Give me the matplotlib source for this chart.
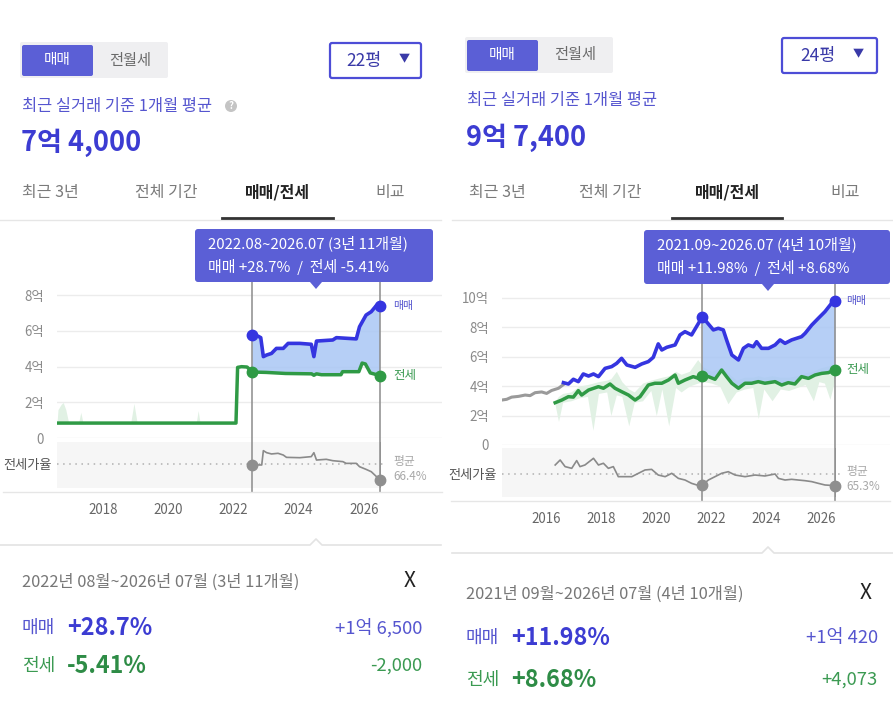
import numpy as np
import matplotlib
matplotlib.use("Agg")
import matplotlib.pyplot as plt
from matplotlib.patches import FancyBboxPatch, Circle, Polygon
from matplotlib.lines import Line2D
from matplotlib.transforms import Affine2D

plt.rcParams['font.family'] = ['Noto Sans CJK KR', 'DejaVu Sans']

# ----------------------------
# Datos: panel izquierdo (22평)
# ----------------------------
L_sale_x = [2022.58, 2022.76, 2022.84, 2022.92, 2023.02, 2023.17, 2023.32, 2023.53, 2023.68,
            2024.04, 2024.39, 2024.47, 2024.55, 2025.05, 2025.16, 2025.77, 2025.87, 2026.07,
            2026.23, 2026.38, 2026.50]
L_sale_y = [5.75, 5.70, 5.62, 4.56, 4.65, 4.74, 5.02, 5.02, 5.30,
            5.30, 5.25, 4.56, 5.43, 5.49, 5.62, 5.55, 6.23, 6.88,
            7.07, 7.40, 7.40]
L_jeon_x = [2016.59, 2022.08, 2022.13, 2022.25, 2022.42, 2022.58, 2023.0, 2023.6, 2024.4,
            2024.47, 2024.55, 2024.7, 2025.3, 2025.35, 2025.85, 2025.95, 2026.05, 2026.2, 2026.5]
L_jeon_y = [0.85, 0.85, 3.96, 4.00, 3.98, 3.70, 3.68, 3.62, 3.60,
            3.52, 3.60, 3.55, 3.55, 3.72, 3.72, 4.20, 4.15, 3.65, 3.50]
L_rng_x = [2016.59, 2016.62, 2016.72, 2016.78, 2016.86, 2016.95, 2017.25, 2017.32, 2017.39,
           2018.85, 2018.95, 2019.05, 2020.86, 2020.92, 2020.98, 2022.08]
L_rng_lo = [0.85] * 16
L_rng_hi = [0.85, 1.6, 1.9, 2.0, 1.6, 0.85, 0.85, 1.45, 0.85,
            0.85, 1.95, 0.85, 0.85, 1.55, 0.85, 0.85]
L_ratio_x = [2022.58, 2022.87, 2022.92, 2023.02, 2023.17, 2023.37, 2023.53, 2023.63, 2024.04,
             2024.39, 2024.47, 2024.55, 2024.85, 2025.05, 2025.36, 2025.46, 2025.77, 2025.87,
             2026.07, 2026.23, 2026.5]
L_ratio_y = [65.6, 65.6, 83.3, 80.8, 79.2, 80.0, 77.9, 75.0, 74.6,
             75.9, 80.8, 71.7, 72.6, 70.9, 69.7, 67.6, 67.6, 63.5,
             60.2, 57.3, 47.0]
L_avg = 66.4
L_start, L_end = 2022.58, 2026.5
L_yticks = [0, 2, 4, 6, 8]
L_ylabels = ['0', '2억', '4억', '6억', '8억']
L_xticks = [2018, 2020, 2022, 2024, 2026]

# ----------------------------
# Datos: panel derecho (24평)
# ----------------------------
R_prev_x = [2014.39, 2014.57, 2014.75, 2015.0, 2015.24, 2015.42, 2015.6, 2015.84, 2016.02,
            2016.2, 2016.45, 2016.63]
R_prev_y = [3.05, 3.10, 3.25, 3.30, 3.39, 3.35, 3.55, 3.60, 3.50,
            3.70, 3.85, 4.10]
R_sale_x = [2016.63, 2016.81, 2016.99, 2017.17, 2017.35, 2017.54, 2017.72, 2017.9, 2018.14,
            2018.38, 2018.56, 2018.74, 2018.93, 2019.23, 2019.47, 2019.71, 2019.89, 2020.07,
            2020.2, 2020.38, 2020.68, 2020.86, 2021.04, 2021.28, 2021.67, 2021.89, 2022.07,
            2022.25, 2022.43, 2022.55, 2022.74, 2022.98, 2023.16, 2023.34, 2023.52, 2023.64,
            2023.82, 2024.07, 2024.31, 2024.49, 2024.67, 2024.91, 2025.27, 2025.4, 2025.64,
            2025.88, 2026.12, 2026.36, 2026.5]
R_sale_y = [4.23, 4.14, 4.46, 4.30, 4.82, 4.68, 4.82, 4.64, 5.20,
            5.32, 5.54, 5.88, 5.43, 5.27, 5.50, 5.66, 5.95, 6.86,
            6.45, 6.63, 6.79, 7.47, 7.69, 7.47, 8.70, 8.21, 7.81,
            7.92, 7.81, 7.13, 6.11, 5.77, 6.56, 6.79, 6.67, 7.01,
            6.56, 6.56, 6.79, 7.13, 6.90, 7.13, 7.35, 7.58, 8.14,
            8.60, 9.05, 9.62, 9.74]
R_jeon_x = [2016.33, 2016.57, 2016.81, 2016.99, 2017.17, 2017.29, 2017.54, 2017.9, 2018.08,
            2018.32, 2018.5, 2018.74, 2018.99, 2019.23, 2019.41, 2019.71, 2019.95, 2020.2,
            2020.44, 2020.68, 2020.8, 2021.04, 2021.34, 2021.53, 2021.67, 2021.89, 2022.13,
            2022.37, 2022.55, 2022.74, 2022.98, 2023.22, 2023.46, 2023.7, 2023.94, 2024.31,
            2024.55, 2024.79, 2025.03, 2025.27, 2025.52, 2025.76, 2026.0, 2026.24, 2026.5]
R_jeon_y = [2.87, 3.05, 3.28, 3.25, 3.69, 3.39, 3.73, 3.96, 3.85,
            4.14, 3.85, 3.62, 3.39, 3.05, 3.28, 4.07, 4.19, 4.19,
            4.41, 4.75, 4.19, 4.41, 4.64, 4.52, 4.69, 4.64, 4.46,
            5.09, 4.64, 4.19, 3.85, 4.19, 4.19, 4.30, 4.19, 4.30,
            4.07, 4.23, 4.14, 4.64, 4.52, 4.75, 4.86, 4.91, 5.10]
R_rng_x = [2016.33, 2016.45, 2016.6, 2016.9, 2017.2, 2017.5, 2017.7, 2017.9, 2018.2, 2018.35,
           2018.55, 2018.75, 2019.0, 2019.2, 2019.5, 2019.8, 2020.0, 2020.2, 2020.45, 2020.7,
           2020.9, 2021.2, 2021.5, 2021.7, 2022.0, 2022.3, 2022.6, 2022.9, 2023.2, 2023.5,
           2023.7, 2023.9, 2024.2, 2024.5, 2024.8, 2025.1, 2025.4, 2025.7, 2025.9, 2026.1,
           2026.3, 2026.5]
R_rng_lo = [2.7, 1.6, 2.9, 3.0, 3.2, 3.3, 1.0, 3.5, 3.6, 2.0,
            3.4, 3.3, 1.3, 2.9, 3.0, 3.7, 2.0, 3.8, 1.3, 3.9,
            3.6, 4.0, 4.2, 4.3, 4.2, 4.0, 2.8, 3.6, 3.8, 3.9,
            1.8, 3.8, 3.0, 3.8, 3.7, 3.9, 4.1, 3.0, 4.3, 4.2,
            3.1, 4.6]
R_rng_hi = [3.0, 3.3, 3.5, 3.6, 4.0, 4.1, 4.2, 4.3, 4.4, 4.5,
            5.0, 4.3, 3.8, 3.6, 4.2, 4.4, 4.5, 4.6, 4.7, 5.0,
            4.8, 5.0, 5.8, 5.3, 5.0, 5.2, 4.9, 4.4, 4.6, 4.6,
            4.7, 4.6, 4.7, 4.6, 4.6, 4.7, 4.9, 5.0, 5.2, 5.3,
            5.4, 5.3]
R_ratio_x = [2016.33, 2016.51, 2016.69, 2016.93, 2017.11, 2017.23, 2017.41, 2017.72, 2017.9,
             2018.08, 2018.26, 2018.44, 2018.62, 2018.87, 2019.11, 2019.35, 2019.59, 2019.83,
             2020.07, 2020.32, 2020.56, 2020.8, 2021.04, 2021.28, 2021.47, 2021.67, 2021.89,
             2022.13, 2022.37, 2022.61, 2022.86, 2023.22, 2023.58, 2023.94, 2024.31, 2024.43,
             2024.67, 2024.91, 2025.15, 2025.4, 2025.64, 2025.88, 2026.12, 2026.5]
R_ratio_y = [75.8, 81.6, 73.9, 71.9, 80.9, 73.9, 75.8, 83.6, 75.8,
             77.8, 71.9, 73.9, 62.2, 62.2, 62.2, 66.1, 70.0, 70.7,
             64.1, 62.2, 66.1, 60.2, 58.3, 54.4, 52.5, 52.5, 58.3,
             62.2, 66.1, 68.0, 64.1, 62.2, 64.1, 63.0, 65.3, 60.2,
             58.3, 59.1, 58.3, 57.5, 56.4, 54.4, 52.5, 51.7]
R_avg = 65.3
R_start, R_end = 2021.67, 2026.5
R_yticks = [0, 2, 4, 6, 8, 10]
R_ylabels = ['0', '2억', '4억', '6억', '8억', '10억']
R_xticks = [2016, 2018, 2020, 2022, 2024, 2026]

# ----------------------------
# Colores
# ----------------------------
BLUE_BG = '#5b5fd6'
TXT_BLUE = '#5555cf'
BIG_BLUE = '#3c3cd2'
LINE_BLUE = '#3535e0'
GREEN = '#2f9a45'
GREEN_TXT = '#3b9a52'
FILL_BLUE = '#a9c7f5'
GRAY_LINE = '#8c8c8c'

W, H, DPI = 893, 722, 100
fig = plt.figure(figsize=(W / DPI, H / DPI), dpi=DPI)
fig.patch.set_facecolor('white')
# coordenadas en píxeles con origen arriba a la izquierda
T = Affine2D().scale(1, -1).translate(0, H).scale(1 / DPI) + fig.dpi_scale_trans


def txt(x, y, s, **kw):
    kw.setdefault('va', 'center')
    fig.text(x, y, s, transform=T, **kw)


def box(x0, y0, x1, y1, fc, ec='none', lw=0, r=0):
    style = f'round,pad=0,rounding_size={r}' if r else 'square,pad=0'
    fig.add_artist(FancyBboxPatch((x0, y0), x1 - x0, y1 - y0, boxstyle=style,
                                  transform=T, fc=fc, ec=ec, lw=lw))


def hline(x0, x1, y, color='#e6e6e6', lw=1.0):
    fig.add_artist(Line2D([x0, x1], [y, y], transform=T, color=color, lw=lw))


def rect(x0, y0, x1, y1):
    return [x0 / W, 1 - y1 / H, (x1 - x0) / W, (y1 - y0) / H]


def header(dx, dy, size_txt, price, show_help):
    # selector 매매 / 전월세
    box(dx + 20, dy + 42, dx + 168, dy + 78, '#efeff1', r=2)
    box(dx + 22, dy + 45, dx + 93, dy + 76, BLUE_BG, r=2)
    txt(dx + 57, dy + 60, '매매', color='white', fontsize=10.5, ha='center')
    txt(dx + 130, dy + 60, '전월세', color='#6a6a6a', fontsize=11, ha='center')
    # desplegable
    dw = 91 if dx == 0 else 95
    box(dx + 330 + (dx > 0) * 7, dy + 43, dx + 330 + (dx > 0) * 7 + dw, dy + 78, 'white',
        ec='#4d4dd6', lw=1.6, r=2)
    txt(dx + 364 + (dx > 0) * 9, dy + 61, size_txt, color='#3a3aa8', fontsize=12.5, ha='center')
    txt(dx + 404 + (dx > 0) * 9, dy + 59, '▼', color='#3a3aa8', fontsize=8, ha='center')
    txt(dx + 22, dy + 106, '최근 실거래 기준 1개월 평균', color=TXT_BLUE, fontsize=11.8)
    if show_help:
        fig.add_artist(Circle((231, dy + 106), 6, transform=T, fc='#c4c4c4', ec='none'))
        txt(231, dy + 106, '?', color='white', fontsize=7, ha='center', fontweight='bold')
    txt(dx + 21, dy + 143, price, color=BIG_BLUE, fontsize=19.5, fontweight='bold')


def tabs(dx, centers, ul):
    names = ['최근 3년', '전체 기간', '매매/전세', '비교']
    for name, cx in zip(names, centers):
        sel = name == '매매/전세'
        txt(cx, 192, name, ha='center', fontsize=11.5,
            color='#222222' if sel else '#7a7a7a', fontweight='bold' if sel else 'normal')
    fig.add_artist(Line2D(ul, [218, 218], transform=T, color='#333333', lw=2))


def chart(px0, px1, top, zero, rtop, rbot, base, tip_bot, ylim_top, rlim, xlim,
          xticks, yticks, ylabels, sale_x, sale_y, jeon_x, jeon_y, rng_x, rng_lo, rng_hi,
          ratio_x, ratio_y, avg, start, end, lab_off, prev=None):
    ax = fig.add_axes(rect(px0, top, px1, zero))
    ax.set_xlim(*xlim)
    ax.set_ylim(0, ylim_top)
    for s in ax.spines.values():
        s.set_visible(False)
    ax.set_xticks([])
    ax.set_yticks(yticks)
    ax.set_yticklabels(ylabels)
    ax.tick_params(axis='y', length=0, pad=9.4, labelsize=9.6, labelcolor='#8a8a8a')
    for yv in yticks:
        ax.axhline(yv, color='#ececec', lw=1, zorder=0)

    ax.fill_between(rng_x, rng_lo, rng_hi, color='#e1f1e4', lw=0, zorder=1)
    sx, sy = np.array(sale_x), np.array(sale_y)
    jx, jy = np.array(jeon_x), np.array(jeon_y)
    ms = (sx >= start) & (sx <= end)
    mj = (jx >= start) & (jx <= end)
    ax.fill(np.concatenate([sx[ms], jx[mj][::-1]]), np.concatenate([sy[ms], jy[mj][::-1]]),
            color=FILL_BLUE, alpha=0.85, lw=0, zorder=1)
    if prev is not None:
        ax.plot(prev[0], prev[1], color='#9a9a9a', lw=2.2, zorder=2)
    ax.plot(jx, jy, color=GREEN, lw=2.5, zorder=3, solid_joinstyle='round')
    ax.plot(sx, sy, color=LINE_BLUE, lw=2.6, zorder=4, solid_joinstyle='round')

    hgt = zero - top
    for d in (start, end):
        ax.axvline(d, ymin=-(base - zero) / hgt, ymax=1 + (top - tip_bot) / hgt,
                   clip_on=False, color=GRAY_LINE, lw=1.1, zorder=2)
    s0, s1 = sy[ms][0], sy[ms][-1]
    j0, j1 = jy[mj][0], jy[mj][-1]
    ax.plot([start, end], [s0, s1], 'o', ms=7.5, color=LINE_BLUE, zorder=6, clip_on=False)
    ax.plot([start, end], [j0, j1], 'o', ms=7.5, color=GREEN, zorder=6, clip_on=False)
    ax.annotate('매매', (end, s1), xytext=(lab_off, 0), textcoords='offset pixels',
                va='center', fontsize=7.8, color=TXT_BLUE, annotation_clip=False)
    ax.annotate('전세', (end, j1), xytext=(lab_off, 0), textcoords='offset pixels',
                va='center', fontsize=9, color=GREEN_TXT, annotation_clip=False)

    # franja de 전세가율
    ar = fig.add_axes(rect(px0, rtop, px1, rbot))
    ar.set_xlim(*xlim)
    ar.set_ylim(*rlim)
    ar.patch.set_alpha(0)
    for s in ar.spines.values():
        s.set_visible(False)
    ar.axvspan(xlim[0], end, color='#f6f6f6', lw=0, zorder=0)
    ar.hlines(avg, xlim[0], end + 0.2, colors='#b0b0b0', linestyles=(0, (1, 3)), lw=1.1, zorder=1)
    ar.plot(ratio_x, ratio_y, color='#8a8a8a', lw=1.2, zorder=3)
    for d in (start, end):
        ar.axvline(d, color=GRAY_LINE, lw=1.1, zorder=2)
    ar.plot([start, end], [ratio_y[ratio_x.index(start)], ratio_y[-1]], 'o', ms=7.5,
            color='#8f8f8f', zorder=5, clip_on=False)
    ar.set_yticks([avg])
    ar.set_yticklabels(['전세가율'])
    ar.tick_params(axis='y', length=0, pad=3.6, labelsize=9.5, labelcolor='#555555')
    ar.set_xticks(xticks)
    ar.set_xticklabels([str(t) for t in xticks])
    ar.tick_params(axis='x', length=0, pad=10.6, labelsize=9.6, labelcolor='#666666')
    ar.annotate('평균', (end, avg), xytext=(lab_off, 3), textcoords='offset pixels',
                va='center', fontsize=8.5, color='#a8a8a8', annotation_clip=False)
    ar.annotate(f'{avg}%', (end, avg), xytext=(lab_off, -12), textcoords='offset pixels',
                va='center', fontsize=8.5, color='#a8a8a8', annotation_clip=False)
    return ax


def tooltip(x0, y0, x1, y1, tip_x, line1, line2):
    box(x0, y0, x1, y1, BLUE_BG, r=3)
    fig.add_artist(Polygon([(tip_x - 6, y1), (tip_x + 6, y1), (tip_x, y1 + 7)],
                           closed=True, transform=T, fc=BLUE_BG, ec='none'))
    txt(x0 + 13, y0 + 14, line1, color='white', fontsize=10.8)
    txt(x0 + 13, y0 + 38, line2, color='white', fontsize=10.8)


def summary(dx, x_right, y_sep, notch, y_date, y_sale, y_jeon, period, s_pct, s_amt, j_pct, j_amt):
    x0 = 0 if dx == 0 else 452
    x1 = 441 if dx == 0 else 893
    fig.add_artist(Line2D([x0, notch - 6, notch, notch + 6, x1],
                          [y_sep, y_sep, y_sep - 6, y_sep, y_sep],
                          transform=T, color='#e3e3e3', lw=1.2))
    txt(dx + 22, y_date, period, color='#777777', fontsize=11.8)
    txt(x_right - 12, y_date - 1, 'X', color='#222222', fontsize=15, ha='center', fontweight='light')
    txt(dx + 22, y_sale, '매매', color=TXT_BLUE, fontsize=13)
    txt(dx + 67, y_sale, s_pct, color=BIG_BLUE, fontsize=16.8, fontweight='bold')
    txt(x_right, y_sale, s_amt, color=TXT_BLUE, fontsize=13.3, ha='right')
    txt(dx + 22, y_jeon, '전세', color=GREEN_TXT, fontsize=13)
    txt(dx + 67, y_jeon, j_pct, color='#2e8c46', fontsize=16.8, fontweight='bold')
    txt(x_right, y_jeon, j_amt, color=GREEN_TXT, fontsize=13.3, ha='right')


# ----------------------------
# Panel izquierdo
# ----------------------------
header(0, 0, '22평', '7억 4,000', True)
hline(0, 441, 220)
tabs(0, [50, 166, 278, 390], [222, 333])
chart(57, 442, 285, 438.3, 442.3, 488.3, 491.7, 282.3, 8.56, (36.8, 93.6), (2016.59, 2028.4),
      L_xticks, L_yticks, L_ylabels, L_sale_x, L_sale_y, L_jeon_x, L_jeon_y,
      L_rng_x, L_rng_lo, L_rng_hi, L_ratio_x, L_ratio_y, L_avg, L_start, L_end, 13)
hline(3, 442, 491.7)
tooltip(195, 229, 433, 282, 316, '2022.08~2026.07 (3년 11개월)', '매매 +28.7%  /  전세 -5.41%')
summary(0, 422, 545, 316, 582, 628, 666, '2022년 08월~2026년 07월 (3년 11개월)',
        '+28.7%', '+1억 6,500', '-5.41%', '-2,000')

# ----------------------------
# Panel derecho
# ----------------------------
header(445, -5, '24평', '9억 7,400', False)
hline(452, 893, 220)
tabs(0, [497, 610, 728, 845], [672, 782])
chart(502, 890, 286, 445, 448, 497, 500.7, 284, 10.79, (38.5, 95.6), (2014.40, 2028.48),
      R_xticks, R_yticks, R_ylabels, R_sale_x, R_sale_y, R_jeon_x, R_jeon_y,
      R_rng_x, R_rng_lo, R_rng_hi, R_ratio_x, R_ratio_y, R_avg, R_start, R_end, 11,
      prev=(R_prev_x, R_prev_y))
hline(451, 890, 500.7)
tooltip(644, 230, 890, 284, 768, '2021.09~2026.07 (4년 10개월)', '매매 +11.98%  /  전세 +8.68%')
summary(444, 878, 553, 768, 594, 638, 680, '2021년 09월~2026년 07월 (4년 10개월)',
        '+11.98%', '+1억 420', '+8.68%', '+4,073')

fig.savefig('out.png', dpi=DPI)
